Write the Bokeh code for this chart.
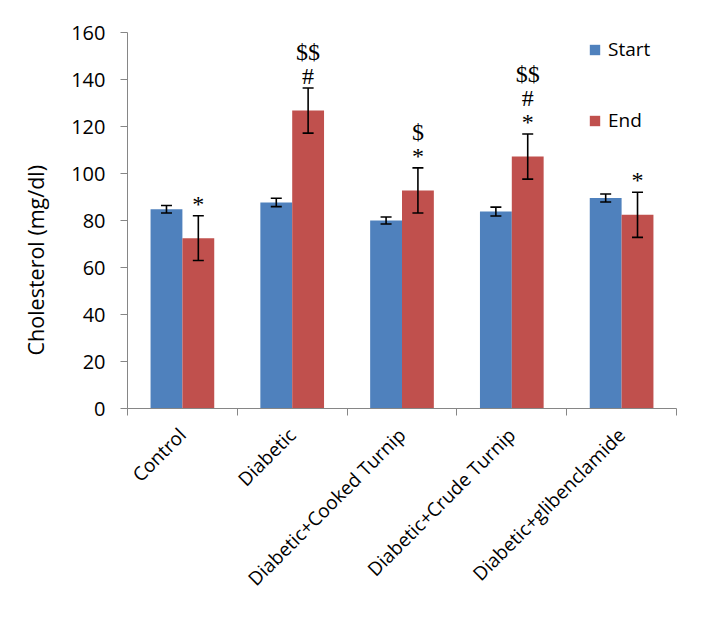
import numpy as np
from math import pi
from bokeh.plotting import figure
from bokeh.models import ColumnDataSource, Range1d, FixedTicker, Whisker, TeeHead, Title
from bokeh.embed import file_html
from bokeh.resources import INLINE

# ---- data ----
categories = ["Control", "Diabetic", "Diabetic+Cooked Turnip",
              "Diabetic+Crude Turnip", "Diabetic+glibenclamide"]
start = [84.8, 87.7, 80.0, 83.8, 89.6]
start_err = [1.6, 1.8, 1.5, 1.9, 1.7]
end = [72.5, 126.8, 92.8, 107.2, 82.4]
end_err = [9.5, 9.6, 9.6, 9.6, 9.6]
end_marks = [["*"], ["#", "$$"], ["*", "$"], ["*", "#", "$$"], ["*"]]
y_ticks = [0, 20, 40, 60, 80, 100, 120, 140, 160]

BLUE = "#4F81BD"
RED = "#C0504D"
GREY = "#868686"
FONT = "Open Sans"

n = len(categories)
xc = np.arange(1, n + 1, dtype=float)
off = 0.145
bw = 0.29

p = figure(width=686, height=604, output_backend="svg", toolbar_location=None,
           x_range=Range1d(0.5, n + 0.5), y_range=Range1d(0, 160),
           min_border_left=126, min_border_right=10, min_border_top=32, min_border_bottom=196)
p.outline_line_color = None
p.xgrid.grid_line_color = None
p.ygrid.grid_line_color = None
p.background_fill_color = "white"
p.border_fill_color = "white"

s_src = ColumnDataSource(dict(x=xc - off, top=start,
                              upper=np.array(start) + np.array(start_err),
                              lower=np.array(start) - np.array(start_err)))
e_src = ColumnDataSource(dict(x=xc + off, top=end,
                              upper=np.array(end) + np.array(end_err),
                              lower=np.array(end) - np.array(end_err)))

p.vbar(x="x", top="top", width=bw, source=s_src, fill_color=BLUE, line_color=None,
       legend_label="Start")
p.vbar(x="x", top="top", width=bw, source=e_src, fill_color=RED, line_color=None,
       legend_label="End")

for src in (s_src, e_src):
    w = Whisker(source=src, base="x", upper="upper", lower="lower",
                line_color="black", line_width=1.6, level="overlay",
                upper_head=TeeHead(size=11, line_color="black", line_width=1.6),
                lower_head=TeeHead(size=11, line_color="black", line_width=1.6))
    p.add_layout(w)

# significance marks above the End bars
mx, my, mt, mo = [], [], [], []
for i, marks in enumerate(end_marks):
    for k, m in enumerate(marks):
        mx.append(xc[i] + off)
        my.append(end[i] + end_err[i])
        mt.append(m)
        mo.append(-(12 + 24 * k))
p.text(x="x", y="y", text="t", y_offset="o",
       source=ColumnDataSource(dict(x=mx, y=my, t=mt, o=mo)),
       text_font="Liberation Serif", text_font_size="24px", text_color="black",
       text_align="center", text_baseline="alphabetic")

# axes
xa = p.xaxis[0]
xa.ticker = FixedTicker(ticks=list(xc), minor_ticks=list(np.arange(0.5, n + 1, 1.0)))
xa.major_label_overrides = {int(i): c for i, c in zip(xc, categories)}
xa.major_label_orientation = pi / 4
xa.axis_line_color = GREY
xa.major_tick_line_color = None
xa.major_tick_out = 7
xa.major_tick_in = 0
xa.minor_tick_line_color = GREY
xa.minor_tick_out = 7
xa.minor_tick_in = 0
xa.major_label_text_font = FONT
xa.major_label_text_font_size = "19px"
xa.major_label_text_color = "black"
xa.major_label_standoff = 16

ya = p.yaxis[0]
ya.ticker = FixedTicker(ticks=y_ticks)
ya.axis_line_color = GREY
ya.major_tick_line_color = GREY
ya.major_tick_out = 7
ya.major_tick_in = 0
ya.minor_tick_line_color = None
ya.major_label_text_font = FONT
ya.major_label_text_font_size = "20px"
ya.major_label_text_color = "black"
ya.major_label_standoff = 15

# y-axis title, set a little below the plot's centre as in the original
ytitle = Title(text="Cholesterol (mg/dl)", align="left", offset=53, standoff=37,
               text_font=FONT, text_font_size="21.5px", text_font_style="normal",
               text_color="black")
p.add_layout(ytitle, "left")

lg = p.legend[0]
lg.location = (461, 275)
lg.padding = 3
lg.margin = 0
lg.spacing = 45
lg.glyph_width = 13
lg.glyph_height = 13
lg.label_standoff = 7
lg.label_text_font = FONT
lg.label_text_font_size = "19px"
lg.label_text_color = "black"
lg.border_line_color = None
lg.background_fill_alpha = 0

open("out.html", "w").write(file_html(p, INLINE))
